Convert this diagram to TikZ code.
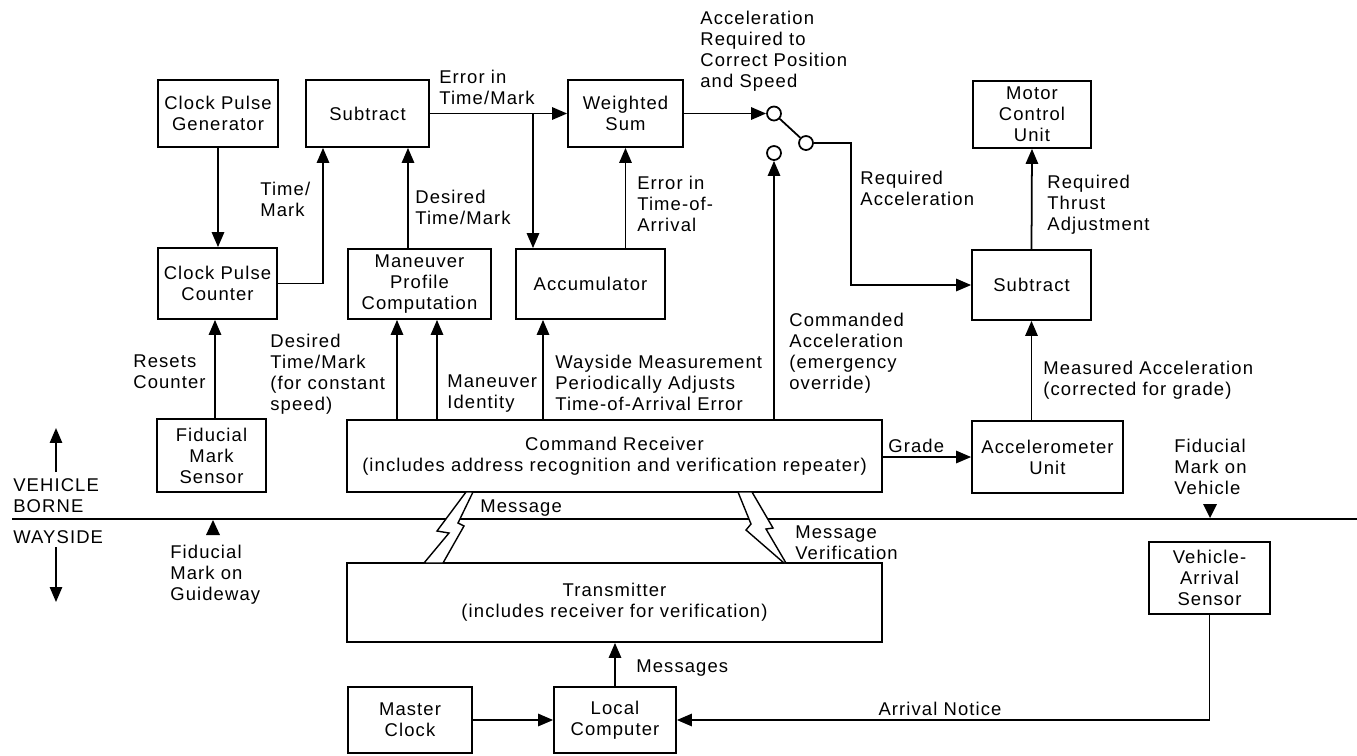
\documentclass[tikz,border=0pt]{standalone}
\usepackage{fontspec}
\setmainfont{Liberation Sans}[LetterSpace=6]
\usetikzlibrary{arrows.meta}
\newcommand\lbl{\fontsize{10.5}{12}\selectfont}
\tikzset{
  box/.style={draw, line width=1pt, inner sep=0pt, align=center, font=\lbl},
  lab/.style={inner sep=0pt, align=left, anchor=west, font=\lbl},
  arr/.style={line width=1pt, -{Triangle[length=8.5pt,width=7pt]}},
  ln/.style={line width=1pt},
  sw/.style={circle, draw, line width=1pt, minimum size=0.28cm, inner sep=0pt, fill=white},
  bolt/.style={draw, line width=0.8pt, fill=white, line join=miter},
}
\begin{document}
\begin{tikzpicture}[x=0.02cm,y=-0.02cm]
\useasboundingbox (0,0) rectangle (1357,755);
% boxes
\node[box, minimum width=2.40cm, minimum height=1.34cm] (gen) at (218,113.5) {Clock Pulse\\Generator};
\node[box, minimum width=2.46cm, minimum height=1.34cm] (sub1) at (367.5,113.5) {Subtract};
\node[box, minimum width=2.30cm, minimum height=1.34cm] (wsum) at (625.5,113.5) {Weighted\\Sum};
\node[box, minimum width=2.36cm, minimum height=1.34cm] (mcu) at (1032,114.5) {Motor\\Control\\Unit};
\node[box, minimum width=2.38cm, minimum height=1.42cm] (cnt) at (217.5,283.5) {Clock Pulse\\Counter};
\node[box, minimum width=2.86cm, minimum height=1.40cm] (mpc) at (419.5,284) {Maneuver\\Profile\\Computation};
\node[box, minimum width=2.98cm, minimum height=1.40cm] (acc) at (590.5,284) {Accumulator};
\node[box, minimum width=2.38cm, minimum height=1.40cm] (sub2) at (1031.5,285) {Subtract};
\node[box, minimum width=2.18cm, minimum height=1.46cm] (fms) at (211.5,455.5) {Fiducial\\Mark\\Sensor};
\node[box, minimum width=10.70cm, minimum height=1.44cm] (cr) at (614.5,456) {Command Receiver\\(includes address recognition and verification repeater)};
\node[box, minimum width=3.02cm, minimum height=1.44cm] (accel) at (1047.5,457) {Accelerometer\\Unit};
\node[box, minimum width=10.70cm, minimum height=1.58cm] (tx) at (614.5,602.5) {Transmitter\\(includes receiver for verification)};
\node[box, minimum width=2.42cm, minimum height=1.44cm] (vas) at (1209.5,578) {Vehicle-\\Arrival\\Sensor};
\node[box, minimum width=2.48cm, minimum height=1.32cm] (mc) at (410,720) {Master\\Clock};
\node[box, minimum width=2.44cm, minimum height=1.32cm] (lc) at (615,720) {Local\\Computer};
% switch
\node[sw] (sw1) at (774,113.5) {};
\node[sw] (sw2) at (774,153) {};
\node[sw] (sw3) at (806,143) {};
\coordinate (bend) at (851,143);
% helper x positions
\coordinate (x215) at (215,0);
\coordinate (x323) at (323,0);
\coordinate (x397) at (397,0);
\coordinate (x408) at (408,0);
\coordinate (x437) at (437,0);
\coordinate (x533) at (533,0);
\coordinate (x543) at (543,0);
% connectors
\draw[arr] (gen.south) -- (gen.south |- cnt.north);
\draw[arr] (cnt.east) -| (sub1.south -| x323);
\draw[arr] (mpc.north -| x408) -- (sub1.south -| x408);
\draw[arr] (sub1.east) -- (wsum.west);
\draw[arr] (sub1.east -| x533) -- (acc.north -| x533);
\draw[arr] (acc.north -| wsum.south) -- (wsum.south);
\draw[arr] (wsum.east) -- (sw1.west);
\draw[ln] (sw1) -- (sw3);
\draw[arr] (cr.north -| sw2) -- (sw2.south);
\draw[arr] (sw3.east) -- (bend) |- (sub2.west);
\draw[arr] (sub2.north) -- (mcu.south);
\draw[arr] (accel.north -| sub2.south) -- (sub2.south);
\draw[arr] (cr.east |- accel.west) -- (accel.west);
\draw[arr] (fms.north -| x215) -- (cnt.south -| x215);
\draw[arr] (cr.north -| x397) -- (mpc.south -| x397);
\draw[arr] (cr.north -| x437) -- (mpc.south -| x437);
\draw[arr] (cr.north -| x543) -- (acc.south -| x543);
\draw[arr] (mc.east) -- (lc.west);
\draw[arr] (lc.north) -- (lc.north |- tx.south);
\draw[arr] (vas.south) |- (lc.east);
% vehicle / wayside divider
\coordinate (wl0) at (12,519);
\coordinate (wl1) at (1357,519);
\draw[ln] (wl0) -- (wl1);
\coordinate (vu0) at (56,472); \coordinate (vu1) at (56,428);
\coordinate (wd0) at (56,547); \coordinate (wd1) at (56,602);
\draw[arr] (vu0) -- (vu1);
\draw[arr] (wd0) -- (wd1);
\fill (206,535) -- (220,535) -- (213,520) -- cycle;
\fill (1203,504) -- (1217,504) -- (1210,518) -- cycle;
% lightning bolts
\draw[bolt] (466,492) -- (473,492) -- (458,523) -- (464,526) -- (443,563) -- (424,563) -- (449,533) -- (437,531) -- cycle;
\draw[bolt] (738,492) -- (752,492) -- (773,528) -- (766,529) -- (786,563) -- (784,563) -- (746,530) -- (751,524) -- cycle;
% labels
\node[lab] (l1) at (700,51) {Acceleration\\Required to\\Correct Position\\and Speed};
\node[lab] (l2) at (439,87) {Error in\\Time/Mark};
\node[lab] (l3) at (260,199) {Time/\\Mark};
\node[lab] (l4) at (415,207) {Desired\\Time/Mark};
\node[lab] (l5) at (637,204) {Error in\\Time-of-\\Arrival};
\node[lab] (l6) at (860,188) {Required\\Acceleration};
\node[lab] (l7) at (1047,205) {Required\\Thrust\\Adjustment};
\node[lab] (l8) at (789,353) {Commanded\\Acceleration\\(emergency\\override)};
\node[lab] (l9) at (1043,380) {Measured Acceleration\\(corrected for grade)};
\node[lab] (l10) at (270,374) {Desired\\Time/Mark\\(for constant\\speed)};
\node[lab] (l11) at (133,372) {Resets\\Counter};
\node[lab] (l12) at (447,394) {Maneuver\\Identity};
\node[lab] (l13) at (555,383) {Wayside Measurement\\Periodically Adjusts\\Time-of-Arrival Error};
\node[lab] (l14) at (888,446) {Grade};
\node[lab] (l15) at (13,496) {VEHICLE\\BORNE};
\node[lab] (l16) at (13,537) {WAYSIDE};
\node[lab] (l17) at (480,508) {Message};
\node[lab] (l18) at (170,575) {Fiducial\\Mark on\\Guideway};
\node[lab] (l19) at (1174,467) {Fiducial\\Mark on\\Vehicle};
\node[lab] (l20) at (795,543) {Message\\Verification};
\node[lab] (l21) at (636,668) {Messages};
\node[lab, anchor=center] (l22) at (940,709) {Arrival Notice};
\end{tikzpicture}
\end{document}
